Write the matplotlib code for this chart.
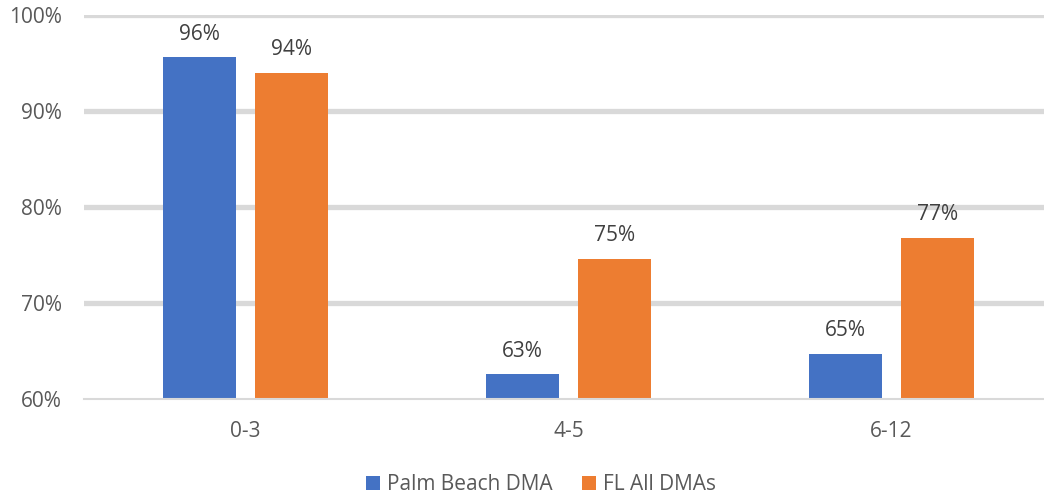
import numpy as np
import matplotlib
matplotlib.use("Agg")
import matplotlib.pyplot as plt

# Share of respondents by child age group
age_groups = ["0-3", "4-5", "6-12"]
palm_beach = [95.6, 62.6, 64.7]
fl_all = [94.0, 74.6, 76.8]
series_names = ["Palm Beach DMA", "FL All DMAs"]
y_ticks = [60, 70, 80, 90, 100]

BLUE = "#4472C4"
ORANGE = "#ED7D31"
GRID = "#D9D9D9"
TEXT = "#595959"
LABEL = "#404040"
FS = 15

plt.rcParams["font.family"] = ["Open Sans", "DejaVu Sans"]

fig = plt.figure(figsize=(10.44, 4.97), dpi=100)
ax = fig.add_axes([84 / 1044, 1 - 399 / 497, 969 / 1044, 384 / 497])

x = np.arange(len(age_groups))
width = 0.224
offset = 0.1424

bars1 = ax.bar(x - offset, palm_beach, width, color=BLUE, label=series_names[0], zorder=2)
bars2 = ax.bar(x + offset, fl_all, width, color=ORANGE, label=series_names[1], zorder=2)

# Value labels above each bar
for bars in (bars1, bars2):
    for b in bars:
        v = b.get_height()
        ax.annotate(f"{v:.0f}%", (b.get_x() + b.get_width() / 2, v),
                    xytext=(0, 16.5), textcoords="offset points",
                    ha="center", va="center", fontsize=FS, color=LABEL)

ax.set_xlim(-0.5, 2.5)
ax.set_ylim(60, 100)
ax.set_xticks(x)
ax.set_xticklabels(age_groups)
ax.set_yticks(y_ticks)
ax.set_yticklabels([f"{t}%" for t in y_ticks])
ax.tick_params(axis="both", length=0, labelsize=FS, labelcolor=TEXT)
ax.tick_params(axis="y", pad=16)
ax.tick_params(axis="x", pad=15.5)

ax.set_axisbelow(True)
ax.yaxis.grid(True, color=GRID, linewidth=3.8)
ax.get_ygridlines()[0].set_visible(False)

for side in ("top", "right", "left"):
    ax.spines[side].set_visible(False)
ax.spines["bottom"].set_color(GRID)
ax.spines["bottom"].set_linewidth(1.5)

fig.legend(handles=[bars1, bars2], labels=series_names, loc="center",
           bbox_to_anchor=(541 / 1044, 1 - 485 / 497), ncol=2, frameon=False,
           fontsize=FS, labelcolor=TEXT, handlelength=0.67, handleheight=0.67,
           handletextpad=0.3, columnspacing=1.45)

fig.savefig("out.png", dpi=100)
